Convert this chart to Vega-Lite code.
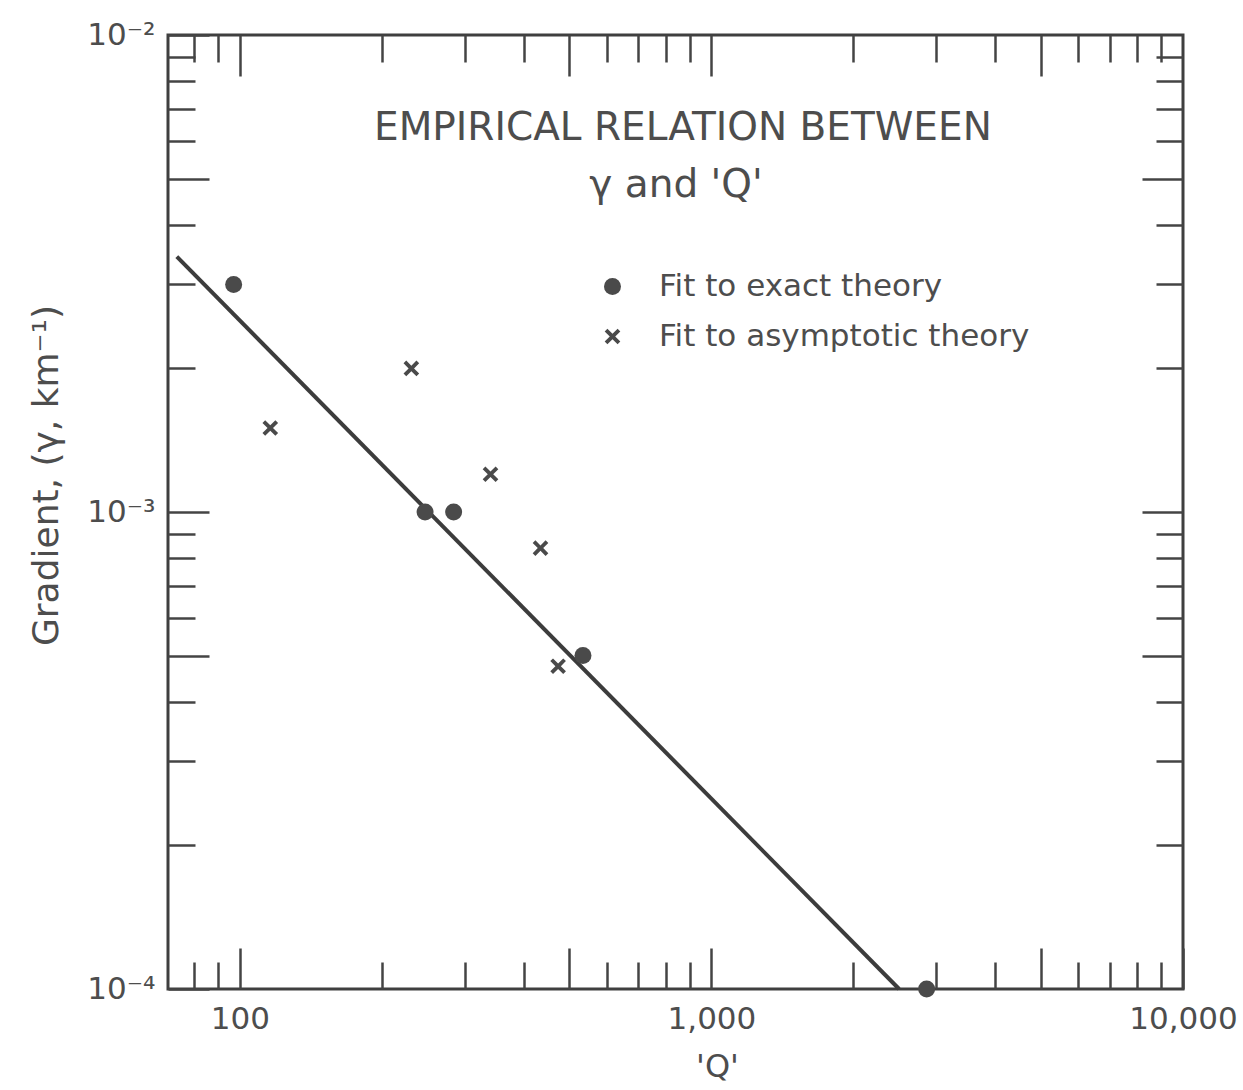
{
  "$schema": "https://vega.github.io/schema/vega-lite/v6.json",
  "width": 1015,
  "height": 954,
  "autosize": {"type": "none"},
  "padding": {"left": 168, "top": 35, "right": 60, "bottom": 101},
  "background": "white",
  "config": {
    "view": {"stroke": "#3f3f3f", "strokeWidth": 3},
    "font": "DejaVu Sans",
    "axis": {
      "domain": false,
      "grid": false,
      "tickColor": "#444444",
      "tickWidth": 2.5,
      "labelFont": "DejaVu Sans",
      "labelColor": "#4d4d4d",
      "labelFontSize": 31,
      "titleFont": "DejaVu Sans",
      "titleFontWeight": "normal",
      "titleColor": "#4d4d4d",
      "labelFlush": false,
      "labelOverlap": false
    },
    "legend": {
      "labelFont": "DejaVu Sans",
      "labelColor": "#4d4d4d"
    }
  },
  "datasets": {
    "measured": [
      {"Q": 97, "gradient": 0.0030, "fit": "Fit to exact theory"},
      {"Q": 247, "gradient": 0.0010, "fit": "Fit to exact theory"},
      {"Q": 284, "gradient": 0.0010, "fit": "Fit to exact theory"},
      {"Q": 534, "gradient": 0.00050, "fit": "Fit to exact theory"},
      {"Q": 2860, "gradient": 0.00010, "fit": "Fit to exact theory"},
      {"Q": 116, "gradient": 0.0015, "fit": "Fit to asymptotic theory"},
      {"Q": 231, "gradient": 0.0020, "fit": "Fit to asymptotic theory"},
      {"Q": 340, "gradient": 0.0012, "fit": "Fit to asymptotic theory"},
      {"Q": 434, "gradient": 0.00084, "fit": "Fit to asymptotic theory"},
      {"Q": 473, "gradient": 0.000475, "fit": "Fit to asymptotic theory"}
    ],
    "empirical_fit": [
      {"Q": 73.5, "gradient": 0.00343},
      {"Q": 2500, "gradient": 0.0001}
    ]
  },
  "layer": [
    {
      "data": {"name": "empirical_fit"},
      "mark": {"type": "line", "color": "#3c3c3c", "strokeWidth": 4},
      "encoding": {
        "x": {
          "field": "Q", "type": "quantitative",
          "scale": {"type": "log", "domain": [70.4, 10000], "nice": false},
          "axis": {
            "orient": "bottom",
            "values": [100, 500, 1000, 5000, 10000],
            "tickSize": -41,
            "labelPadding": 56,
            "labelExpr": "datum.value == 100 ? '100' : datum.value == 1000 ? '1,000' : datum.value == 10000 ? '10,000' : ''",
            "title": "'Q'",
            "titleFontSize": 32,
            "titleX": 549,
            "titleY": 62,
            "titleBaseline": "top",
            "titleAlign": "center"
          }
        },
        "y": {
          "field": "gradient", "type": "quantitative",
          "scale": {"type": "log", "domain": [0.0001, 0.01], "nice": false},
          "axis": {
            "orient": "left",
            "values": [0.0001, 0.0005, 0.001, 0.005, 0.01],
            "tickSize": -41,
            "labelPadding": 54,
            "labelExpr": "datum.value == 0.01 ? '10⁻²' : datum.value == 0.001 ? '10⁻³' : datum.value == 0.0001 ? '10⁻⁴' : ''",
            "title": "Gradient, (γ, km⁻¹)",
            "titleFontSize": 36,
            "titleAngle": -90,
            "titleX": -111,
            "titleY": 440,
            "titleAlign": "center",
            "titleBaseline": "alphabetic"
          }
        }
      }
    },
    {
      "data": {"name": "measured"},
      "mark": {"type": "point", "filled": true, "color": "#4a4a4a", "size": 289, "opacity": 1},
      "encoding": {
        "x": {
          "field": "Q", "type": "quantitative",
          "scale": {"type": "log", "domain": [70.4, 10000], "nice": false},
          "axis": {
            "orient": "bottom",
            "values": [80, 90, 200, 300, 400, 600, 700, 800, 900, 2000, 3000, 4000, 6000, 7000, 8000, 9000],
            "tickSize": -27,
            "labels": false,
            "title": null
          }
        },
        "y": {
          "field": "gradient", "type": "quantitative",
          "scale": {"type": "log", "domain": [0.0001, 0.01], "nice": false},
          "axis": {
            "orient": "left",
            "values": [0.0002, 0.0003, 0.0004, 0.0006, 0.0007, 0.0008, 0.0009, 0.002, 0.003, 0.004, 0.006, 0.007, 0.008, 0.009],
            "tickSize": -27,
            "labels": false,
            "title": null
          }
        },
        "shape": {
          "field": "fit", "type": "nominal",
          "scale": {
            "domain": ["Fit to exact theory", "Fit to asymptotic theory"],
            "range": ["circle", "M-0.92,-0.6L-0.6,-0.92L0,-0.32L0.6,-0.92L0.92,-0.6L0.32,0L0.92,0.6L0.6,0.92L0,0.32L-0.6,0.92L-0.92,0.6L-0.32,0Z"]
          },
          "legend": {
            "orient": "none",
            "legendX": 429,
            "legendY": 236,
            "title": null,
            "labelFontSize": 31,
            "labelOffset": 31,
            "labelLimit": 0,
            "rowPadding": 18,
            "symbolSize": 289,
            "encode": {
              "symbols": {
                "update": {
                  "fill": {"value": "#4a4a4a"},
                  "opacity": {"value": 1}
                }
              }
            }
          }
        }
      }
    },
    {
      "data": {"values": [{}]},
      "mark": {"type": "text", "text": "EMPIRICAL RELATION BETWEEN", "font": "DejaVu Sans", "fontSize": 39, "color": "#4d4d4d", "align": "center", "baseline": "alphabetic"},
      "encoding": {
        "x": {
          "datum": 870, "type": "quantitative",
          "scale": {"type": "log", "domain": [70.4, 10000], "nice": false},
          "axis": {
            "orient": "top",
            "values": [100, 500, 1000, 5000],
            "tickSize": -41,
            "labels": false,
            "title": null
          }
        },
        "y": {
          "datum": 0.00603, "type": "quantitative",
          "scale": {"type": "log", "domain": [0.0001, 0.01], "nice": false},
          "axis": {
            "orient": "right",
            "values": [0.0005, 0.001, 0.005],
            "tickSize": -41,
            "labels": false,
            "title": null
          }
        }
      }
    },
    {
      "data": {"values": [{}]},
      "mark": {"type": "text", "text": "γ and 'Q'", "font": "DejaVu Sans", "fontSize": 39, "color": "#4d4d4d", "align": "center", "baseline": "alphabetic"},
      "encoding": {
        "x": {
          "datum": 841, "type": "quantitative",
          "scale": {"type": "log", "domain": [70.4, 10000], "nice": false},
          "axis": {
            "orient": "top",
            "values": [80, 90, 200, 300, 400, 600, 700, 800, 900, 2000, 3000, 4000, 6000, 7000, 8000, 9000],
            "tickSize": -27,
            "labels": false,
            "title": null
          }
        },
        "y": {
          "datum": 0.00458, "type": "quantitative",
          "scale": {"type": "log", "domain": [0.0001, 0.01], "nice": false},
          "axis": {
            "orient": "right",
            "values": [0.0002, 0.0003, 0.0004, 0.0006, 0.0007, 0.0008, 0.0009, 0.002, 0.003, 0.004, 0.006, 0.007, 0.008, 0.009],
            "tickSize": -27,
            "labels": false,
            "title": null
          }
        }
      }
    }
  ],
  "resolve": {"axis": {"x": "independent", "y": "independent"}}
}
